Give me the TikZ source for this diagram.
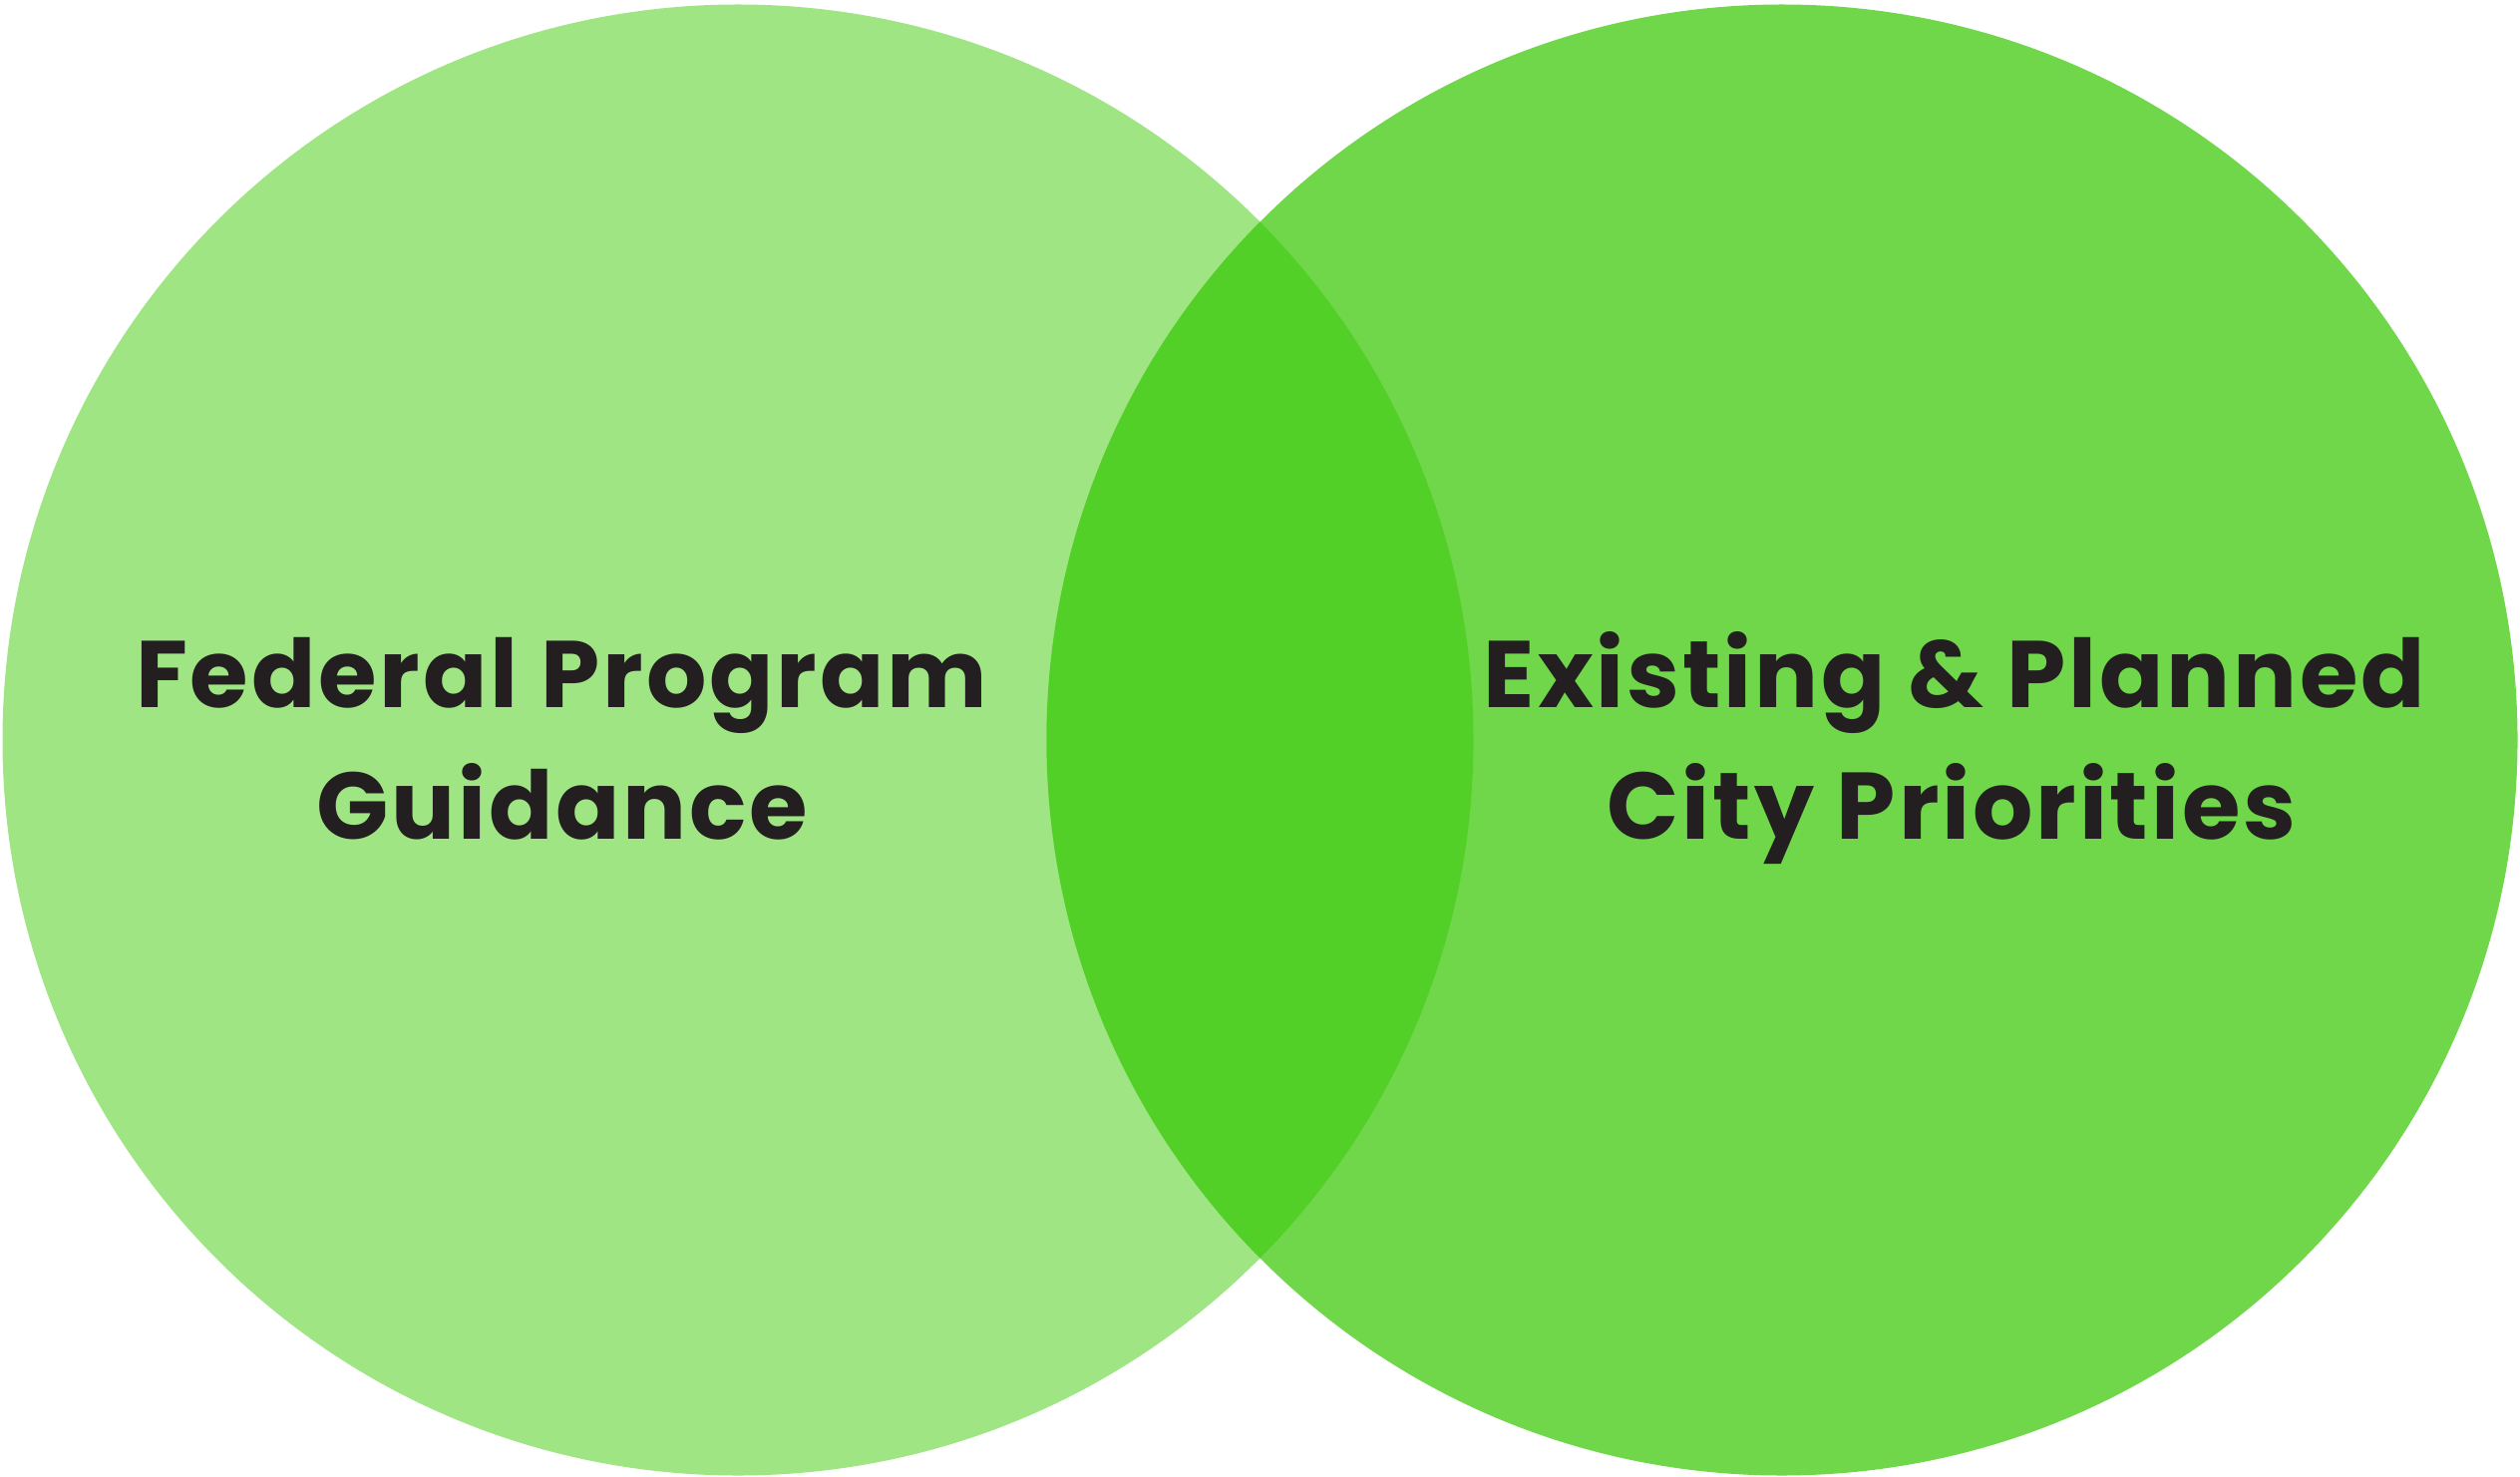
\documentclass[tikz,border=0pt]{standalone}
\usepackage{fontspec}
\setmainfont{Poppins}[LetterSpace=3]
\usepackage{tkz-euclide}

\definecolor{verdeclaro}{HTML}{A0E584}
\definecolor{verdemedio}{HTML}{70D74A}
\definecolor{verdefuerte}{HTML}{52D028}
\definecolor{texto}{HTML}{231F20}

\tikzset{etiqueta/.style={font=\fontsize{27}{37.5}\selectfont\bfseries,
    text=texto, anchor=base, inner sep=0pt}}

\begin{document}
\begin{tikzpicture}
        \useasboundingbox (0,0) rectangle (25.27,14.80);

        % Centros de los dos círculos y un punto de cada uno.
        \tkzDefPoint(7.40,7.38){O1}
        \tkzDefPoint(17.87,7.38){O2}
        \tkzDefPoint(14.775,7.38){A}
        \tkzDefPoint(10.495,7.38){B}

        % Rellena los círculos.
        \tkzFillCircle[fill=verdeclaro](O1,A)
        \tkzFillCircle[fill=verdemedio](O2,B)

        % Rellena la intersección.
        \begin{scope}
            \tkzClipCircle(O1,A)
            \tkzFillCircle[fill=verdefuerte](O2,B)
        \end{scope}

        % Etiquetas de cada conjunto
        \node[etiqueta] (fed1) at (5.63,7.71) {Federal Program};
        \node[etiqueta] (fed2) at (5.64,6.39) {Guidance};
        \node[etiqueta] (cit1) at (19.60,7.71) {Existing \& Planned};
        \node[etiqueta] (cit2) at (19.57,6.39) {City Priorities};
    \end{tikzpicture}
\end{document}
